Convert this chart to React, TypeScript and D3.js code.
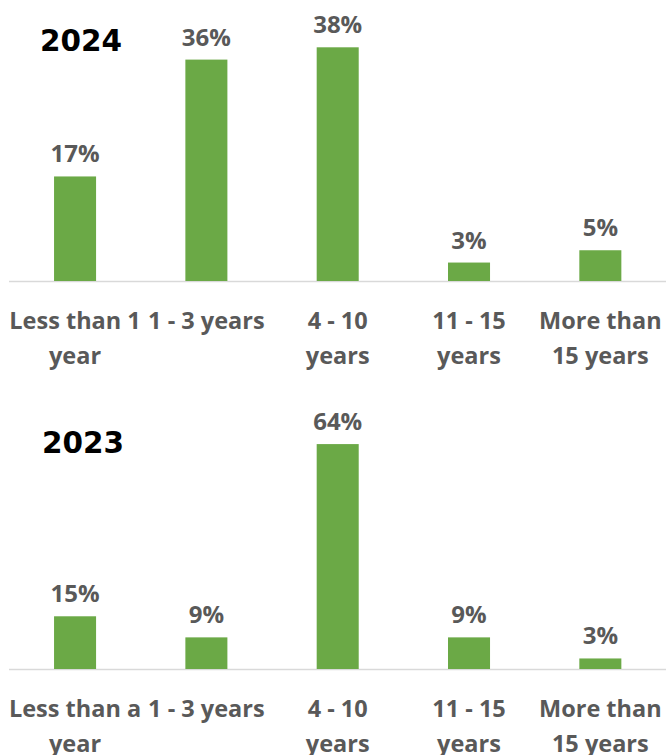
import React from "react";
import * as d3 from "d3";

const categories2024 = [
  ["Less than 1", "year"],
  ["1 - 3 years"],
  ["4 - 10", "years"],
  ["11 - 15", "years"],
  ["More than", "15 years"],
];
const values2024 = [17, 36, 38, 3, 5];

const categories2023 = [
  ["Less than a", "year"],
  ["1 - 3 years"],
  ["4 - 10", "years"],
  ["11 - 15", "years"],
  ["More than", "15 years"],
];
const values2023 = [15, 9, 64, 9, 3];

const W = 666;
const H = 755;
const GREEN = "#6BA946";
const LABEL = "#595959";
const FONT = "'Open Sans', 'Noto Sans', sans-serif";

type PanelProps = {
  title: string;
  cats: string[][];
  values: number[];
  yMax: number;
  baseline: number;
  titleY: number;
  titleX: number;
};

function Panel({ title, cats, values, yMax, baseline, titleY, titleX }: PanelProps) {
  const keys = cats.map((c) => c.join(" "));
  const x = d3
    .scaleBand<string>()
    .domain(keys)
    .range([9.4, W])
    .paddingInner(0.68)
    .paddingOuter(0.34);
  const y = d3.scaleLinear().domain([0, yMax]).range([baseline, baseline - 246]);
  return (
    <g>
      <text
        x={titleX}
        y={titleY}
        fontFamily="'DejaVu Sans', sans-serif"
        fontWeight={700}
        fontSize={29.5}
        fill="#000"
      >
        {title}
      </text>
      <line x1={9} x2={W} y1={baseline + 0.5} y2={baseline + 0.5} stroke="#d9d9d9" strokeWidth={1.5} />
      {values.map((v, i) => {
        const k = keys[i];
        const bx = x(k) as number;
        const cx = bx + x.bandwidth() / 2;
        return (
          <g key={k}>
            <rect x={bx} y={y(v)} width={x.bandwidth()} height={baseline - y(v)} fill={GREEN} />
            <text
              x={cx}
              y={y(v) - 14}
              textAnchor="middle"
              fontFamily={FONT}
              fontWeight={700}
              fontSize={24}
              fill={LABEL}
            >
              {v}%
            </text>
            {cats[i].map((line, j) => (
              <text
                key={j}
                x={cx}
                y={baseline + 48 + j * 35}
                textAnchor="middle"
                fontFamily={FONT}
                fontWeight={700}
                fontSize={23.5}
                fill={LABEL}
              >
                {line}
              </text>
            ))}
          </g>
        );
      })}
    </g>
  );
}

export default function App() {
  return (
    <svg
      width={W}
      height={H}
      viewBox={`0 0 ${W} ${H}`}
      style={{ position: "absolute", left: 0, top: 0, background: "#fff" }}
    >
      <rect width={W} height={H} fill="#fff" />
      <Panel
        title="2024"
        cats={categories2024}
        values={values2024}
        yMax={40}
        baseline={281}
        titleY={51}
        titleX={40}
      />
      <Panel
        title="2023"
        cats={categories2023}
        values={values2023}
        yMax={70}
        baseline={669}
        titleY={453}
        titleX={42}
      />
    </svg>
  );
}
